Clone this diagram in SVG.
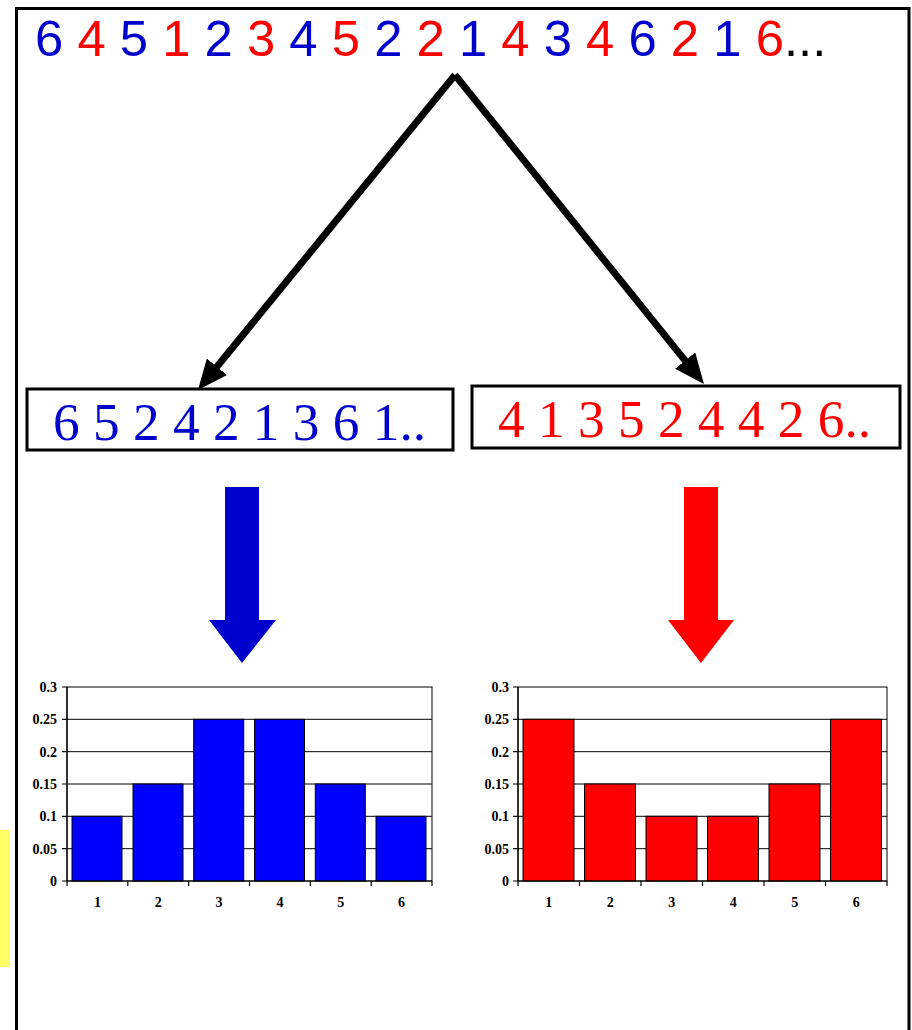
<svg xmlns="http://www.w3.org/2000/svg" width="912" height="1030" viewBox="0 0 912 1030">
<style>
.b{fill:#0000CC}
.r{fill:#FF0000}
.seq{font-family:"Liberation Sans",Arial,sans-serif;font-size:50.8px}
.box{fill:#fff;stroke:#000;stroke-width:3}
.boxt{font-family:"Liberation Serif","Times New Roman",serif;font-size:53.3px}
.conn{stroke:#000;stroke-width:7;fill:none}
.grid{stroke:#000;stroke-width:1;fill:none}
.ax{stroke:#000;stroke-width:1.2;fill:none}
.lbl{font-family:"Liberation Serif","Times New Roman",serif;font-size:14px;font-weight:bold;fill:#000}
.yl{text-anchor:end}
.xl{text-anchor:middle}
.bb{fill:#0000FF;stroke:#000;stroke-width:1}
.rb{fill:#FF0000;stroke:#000;stroke-width:1}
</style>
<defs>
<marker id="ah" viewBox="0 0 30 26" refX="10" refY="13" markerWidth="30" markerHeight="26" markerUnits="userSpaceOnUse" orient="auto">
<path d="M0,0 L30,13 L0,26 z" fill="#000"/>
</marker>
</defs>
<rect width="912" height="1030" fill="#fff"/>
<rect id="note" x="0" y="830" width="10" height="137" fill="#FFFF66"/>
<g id="frame">
<path d="M16.5,1030 V8.5 H909 V1030" fill="none" stroke="#000" stroke-width="3"/>
</g>
<g id="sequence">
<text class="seq" x="35" y="56"><tspan class="b">6</tspan> <tspan class="r">4</tspan> <tspan class="b">5</tspan> <tspan class="r">1</tspan> <tspan class="b">2</tspan> <tspan class="r">3</tspan> <tspan class="b">4</tspan> <tspan class="r">5</tspan> <tspan class="b">2</tspan> <tspan class="r">2</tspan> <tspan class="b">1</tspan> <tspan class="r">4</tspan> <tspan class="b">3</tspan> <tspan class="r">4</tspan> <tspan class="b">6</tspan> <tspan class="r">2</tspan> <tspan class="b">1</tspan> <tspan class="r">6</tspan><tspan fill="#000">...</tspan></text>
</g>
<g id="connectors">
<line class="conn" x1="455" y1="75" x2="210.6" y2="374.5" marker-end="url(#ah)"/>
<line class="conn" x1="455" y1="75" x2="691.4" y2="368.4" marker-end="url(#ah)"/>
</g>
<g id="box-blue">
<rect class="box" x="27" y="389" width="426" height="61"/>
<text class="boxt b" x="53" y="440">6 5 2 4 2 1 3 6 1..</text>
</g>
<g id="box-red">
<rect class="box" x="472" y="386" width="428" height="62"/>
<text class="boxt r" x="498" y="437">4 1 3 5 2 4 4 2 6..</text>
</g>
<g id="arrow-blue">
<path d="M225,487 H259 V620 H276 L242,663 L209,620 H225 z" fill="#0000CC"/>
</g>
<g id="arrow-red">
<path d="M684,487 H718 V620 H734 L701,663 L668,620 H684 z" fill="#FF0000"/>
</g>
<g id="chart-blue">
<rect x="67" y="687" width="365" height="194" fill="#fff" stroke="#000" stroke-width="1"/>
<path class="grid" d="M67,719.3 H432 M67,751.7 H432 M67,784 H432 M67,816.3 H432 M67,848.7 H432"/>
<rect class="bb" x="72" y="816.3" width="50" height="64.7"/>
<rect class="bb" x="133" y="784" width="50" height="97"/>
<rect class="bb" x="193.7" y="719.3" width="50" height="161.7"/>
<rect class="bb" x="254.5" y="719.3" width="50" height="161.7"/>
<rect class="bb" x="315.3" y="784" width="50" height="97"/>
<rect class="bb" x="376" y="816.3" width="50" height="64.7"/>
<path class="ax" d="M67,687 V881 H432 M62,687 H67 M62,719.3 H67 M62,751.7 H67 M62,784 H67 M62,816.3 H67 M62,848.7 H67 M62,881 H67 M67,881 V886 M127.8,881 V886 M188.7,881 V886 M249.5,881 V886 M310.3,881 V886 M371.2,881 V886 M432,881 V886"/>
<g class="lbl yl">
<text x="57" y="692">0.3</text>
<text x="57" y="724.3">0.25</text>
<text x="57" y="756.7">0.2</text>
<text x="57" y="789">0.15</text>
<text x="57" y="821.3">0.1</text>
<text x="57" y="853.7">0.05</text>
<text x="57" y="886">0</text>
</g>
<g class="lbl xl">
<text x="97.4" y="907">1</text>
<text x="158.3" y="907">2</text>
<text x="219.1" y="907">3</text>
<text x="279.9" y="907">4</text>
<text x="340.8" y="907">5</text>
<text x="401.6" y="907">6</text>
</g>
</g>
<g id="chart-red">
<rect x="518" y="687" width="369" height="194" fill="#fff" stroke="#000" stroke-width="1"/>
<path class="grid" d="M518,719.3 H887 M518,751.7 H887 M518,784 H887 M518,816.3 H887 M518,848.7 H887"/>
<rect class="rb" x="523" y="719.3" width="51" height="161.7"/>
<rect class="rb" x="584.5" y="784" width="51" height="97"/>
<rect class="rb" x="646" y="816.3" width="51" height="64.7"/>
<rect class="rb" x="707.5" y="816.3" width="51" height="64.7"/>
<rect class="rb" x="769" y="784" width="51" height="97"/>
<rect class="rb" x="830.5" y="719.3" width="51" height="161.7"/>
<path class="ax" d="M518,687 V881 H887 M513,687 H518 M513,719.3 H518 M513,751.7 H518 M513,784 H518 M513,816.3 H518 M513,848.7 H518 M513,881 H518 M518,881 V886 M579.5,881 V886 M641,881 V886 M702.5,881 V886 M764,881 V886 M825.5,881 V886 M887,881 V886"/>
<g class="lbl yl">
<text x="509" y="692">0.3</text>
<text x="509" y="724.3">0.25</text>
<text x="509" y="756.7">0.2</text>
<text x="509" y="789">0.15</text>
<text x="509" y="821.3">0.1</text>
<text x="509" y="853.7">0.05</text>
<text x="509" y="886">0</text>
</g>
<g class="lbl xl">
<text x="548.8" y="907">1</text>
<text x="610.3" y="907">2</text>
<text x="671.8" y="907">3</text>
<text x="733.3" y="907">4</text>
<text x="794.8" y="907">5</text>
<text x="856.3" y="907">6</text>
</g>
</g>
</svg>
